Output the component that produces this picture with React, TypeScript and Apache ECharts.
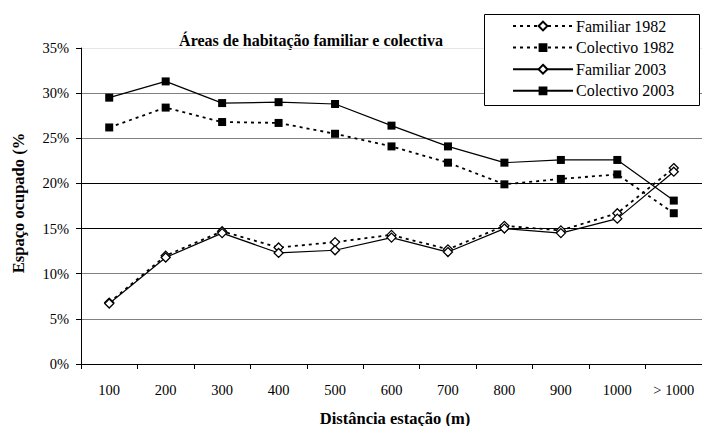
import React, { useEffect, useRef } from "react";
import * as echarts from "echarts";

const categories = ["100", "200", "300", "400", "500", "600", "700", "800", "900", "1000", "> 1000"];
const familiar1982 = [6.8, 12.0, 14.7, 12.9, 13.5, 14.3, 12.7, 15.3, 14.8, 16.7, 21.7];
const colectivo1982 = [26.2, 28.4, 26.8, 26.7, 25.5, 24.1, 22.3, 19.9, 20.5, 21.0, 16.7];
const familiar2003 = [6.7, 11.8, 14.5, 12.3, 12.6, 14.0, 12.4, 15.0, 14.5, 16.1, 21.3];
const colectivo2003 = [29.5, 31.3, 28.9, 29.0, 28.8, 26.4, 24.1, 22.3, 22.6, 22.6, 18.1];

const FONT = "Liberation Serif";
const DIAMOND = "path://M0,-1L1,0L0,1L-1,0Z";

export default function App() {
  const ref = useRef<HTMLDivElement>(null);
  useEffect(() => {
    if (!ref.current) return;
    const chart = echarts.init(ref.current, null, { renderer: "svg" });
    const mk = (name: string, data: number[], dotted: boolean, diamond: boolean) => ({
      name,
      type: "line",
      data,
      symbol: diamond ? DIAMOND : "rect",
      symbolSize: diamond ? 9 : 8,
      itemStyle: diamond
        ? { color: "#fff", borderColor: "#000", borderWidth: 1.3 }
        : { color: "#000", borderColor: "#000", borderWidth: 0 },
      lineStyle: dotted
        ? { color: "#000", width: 1.8, type: [3, 4] }
        : { color: "#000", width: 1.2, type: "solid" },
      emphasis: { disabled: true },
    });
    chart.setOption({
      animation: false,
      backgroundColor: "#fff",
      textStyle: { fontFamily: FONT },
      grid: { left: 81, right: -8, top: 48, bottom: 62, containLabel: false },
      legend: {
        orient: "vertical",
        left: 512,
        top: 18,
        z: 10,
        padding: 0,
        itemGap: 5.6,
        itemWidth: 60,
        itemHeight: 11,
        textStyle: { fontFamily: FONT, fontSize: 16, color: "#000", padding: [0, 0, 0, -2] },
        data: ["Familiar 1982", "Colectivo 1982", "Familiar 2003", "Colectivo 2003"],
      },
      xAxis: {
        type: "category",
        data: categories,
        boundaryGap: true,
        axisLine: { lineStyle: { color: "#000", width: 1 } },
        axisTick: { show: true, length: 5, lineStyle: { color: "#000" } },
        axisLabel: { color: "#000", fontFamily: FONT, fontSize: 14.5, margin: 18 },
        splitLine: { show: false },
      },
      yAxis: {
        type: "value",
        min: 0,
        max: 35,
        interval: 5,
        axisLine: { show: true, lineStyle: { color: "#000", width: 1 } },
        axisTick: { show: true, length: 5, lineStyle: { color: "#000" } },
        axisLabel: { color: "#000", fontFamily: FONT, fontSize: 14.5, margin: 12, formatter: "{value}%" },
        splitLine: {
          show: true,
          lineStyle: {
            color: ["#000", "#808080", "#808080", "#000", "#000", "#808080", "#808080", "#e6e6e6"],
            width: 1,
          },
        },
      },
      graphic: [
        {
          type: "rect",
          z: 5,
          shape: { x: 484.5, y: 14.5, width: 215, height: 91 },
          style: { fill: "#fff", stroke: "#000", lineWidth: 1 },
        },
        {
          type: "text",
          x: 311,
          y: 40,
          style: {
            text: "Áreas de habitação familiar e colectiva",
            fontFamily: FONT,
            fontWeight: "bold",
            fontSize: 16,
            fill: "#000",
            align: "center",
            verticalAlign: "middle",
          },
        },
        {
          type: "text",
          x: 395,
          y: 418,
          style: {
            text: "Distância estação (m)",
            fontFamily: FONT,
            fontWeight: "bold",
            fontSize: 16.5,
            fill: "#000",
            align: "center",
            verticalAlign: "middle",
          },
        },
        {
          type: "text",
          x: 18,
          y: 203,
          rotation: Math.PI / 2,
          style: {
            text: "Espaço ocupado (%",
            fontFamily: FONT,
            fontWeight: "bold",
            fontSize: 16.5,
            fill: "#000",
            align: "center",
            verticalAlign: "middle",
          },
        },
      ],
      series: [
        mk("Familiar 1982", familiar1982, true, true),
        mk("Colectivo 1982", colectivo1982, true, false),
        mk("Familiar 2003", familiar2003, false, true),
        mk("Colectivo 2003", colectivo2003, false, false),
      ],
    });
    return () => chart.dispose();
  }, []);
  return (
    <div
      ref={ref}
      style={{ position: "fixed", left: 0, top: 0, width: 702, height: 426, background: "#fff" }}
    />
  );
}
